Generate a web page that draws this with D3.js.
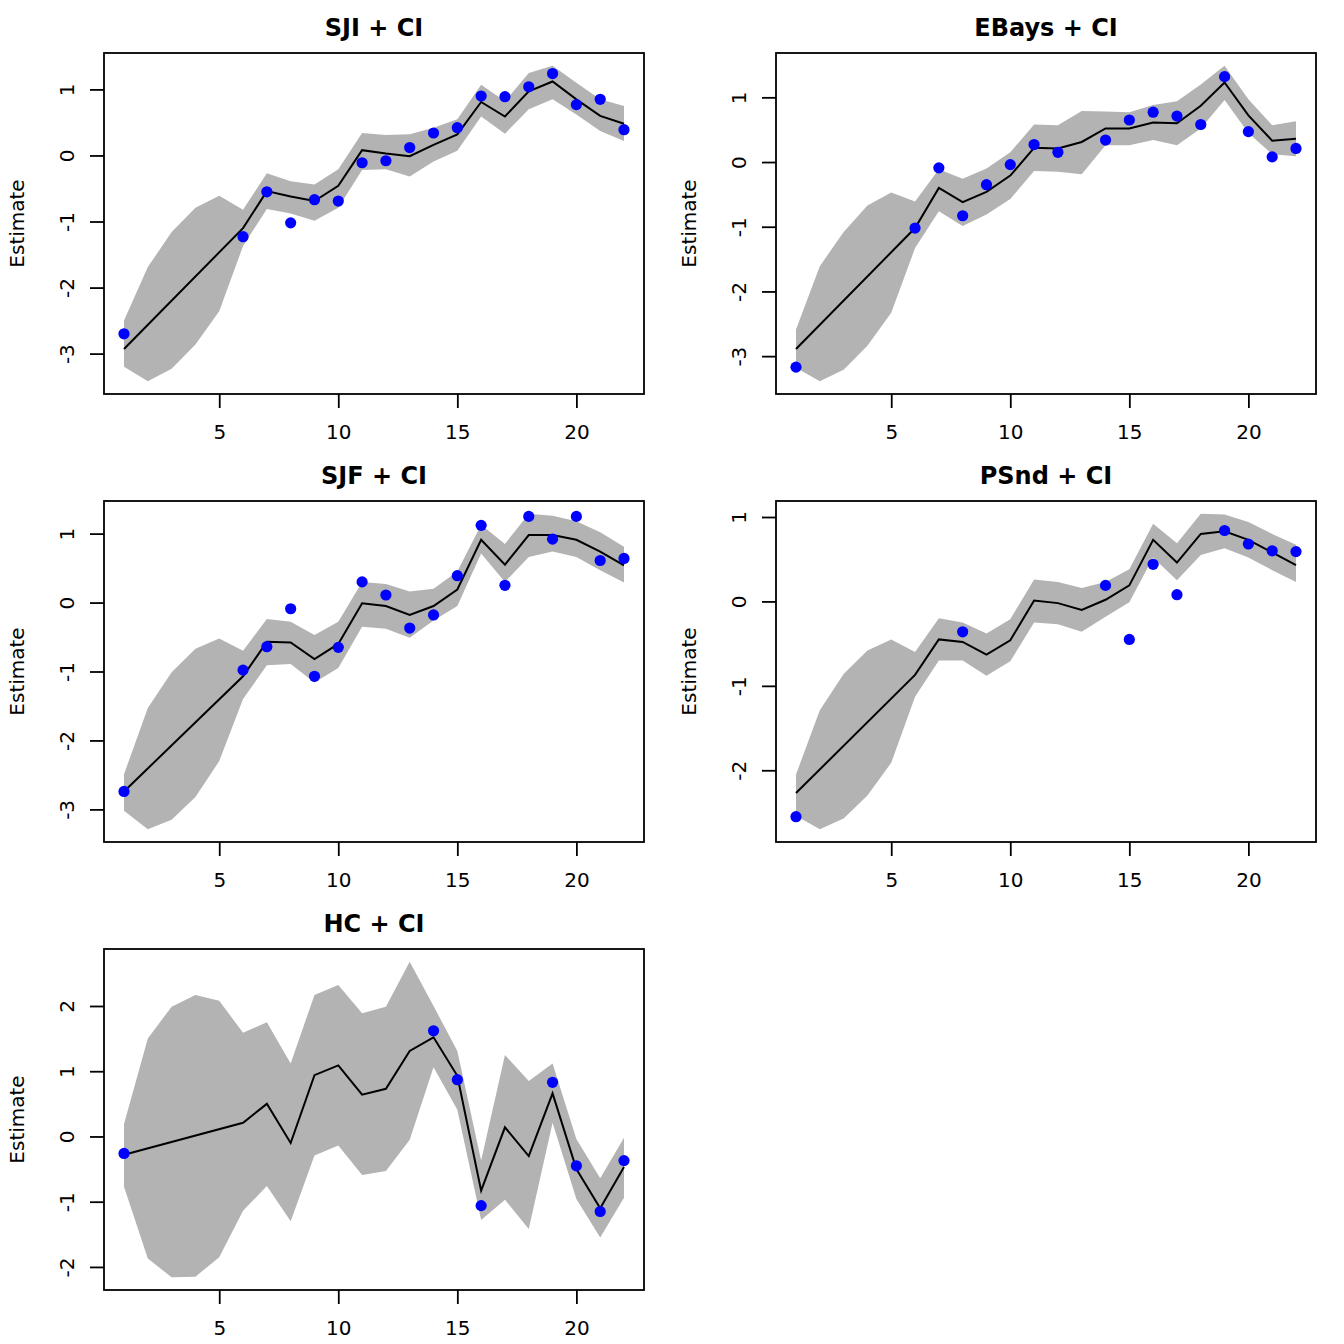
<!DOCTYPE html>
<html>
<head>
<meta charset="utf-8">
<script src="https://cdn.jsdelivr.net/npm/d3@7"></script>
<style>
  body { margin: 0; background: #fff; }
  svg { display: block; }
  text { font-family: "DejaVu Sans", sans-serif; fill: #000; }
</style>
</head>
<body>
<svg id="chart" width="1344" height="1344"></svg>
<script>
// x positions shared by every panel
const xIndex = d3.range(1, 23);

// SJI
const sjiEst = [-2.93, null, null, null, null, -1.10, -0.54, -0.62, -0.69, -0.46, 0.08, 0.03, -0.01, 0.16, 0.32, 0.81, 0.59, 0.97, 1.12, 0.85, 0.60, 0.48];
const sjiObs = [-2.70, null, null, null, null, -1.23, -0.55, -1.02, -0.67, -0.69, -0.11, -0.08, 0.12, 0.34, 0.42, 0.90, 0.89, 1.04, 1.24, 0.77, 0.85, 0.39];
const sjiUpper = [-2.50, -1.69, -1.16, -0.79, -0.61, -0.82, -0.27, -0.39, -0.44, -0.21, 0.34, 0.31, 0.32, 0.42, 0.55, 1.07, 0.82, 1.25, 1.36, 1.10, 0.85, 0.75];
const sjiLower = [-3.20, -3.42, -3.23, -2.86, -2.36, -1.37, -0.81, -0.88, -0.99, -0.79, -0.22, -0.21, -0.32, -0.09, 0.07, 0.59, 0.33, 0.70, 0.85, 0.62, 0.37, 0.22];

// EBays
const ebEst = [-2.89, null, null, null, null, -1.02, -0.40, -0.62, -0.46, -0.21, 0.22, 0.21, 0.31, 0.52, 0.52, 0.61, 0.60, 0.87, 1.23, 0.72, 0.33, 0.36];
const ebObs = [-3.17, null, null, null, null, -1.02, -0.09, -0.83, -0.35, -0.04, 0.27, 0.15, null, 0.34, 0.65, 0.77, 0.71, 0.58, 1.32, 0.47, 0.08, 0.21];
const ebUpper = [-2.59, -1.61, -1.08, -0.67, -0.47, -0.61, -0.11, -0.26, -0.10, 0.15, 0.58, 0.57, 0.79, 0.78, 0.77, 0.88, 0.94, 1.20, 1.49, 0.97, 0.57, 0.63];
const ebLower = [-3.18, -3.39, -3.21, -2.84, -2.33, -1.33, -0.76, -0.99, -0.81, -0.57, -0.14, -0.15, -0.19, 0.26, 0.26, 0.34, 0.26, 0.52, 0.96, 0.45, 0.12, 0.09];

// SJF
const sjfEst = [-2.74, null, null, null, null, -1.07, -0.57, -0.58, -0.82, -0.60, -0.01, -0.05, -0.18, -0.05, 0.19, 0.91, 0.55, 0.98, 0.98, 0.91, 0.74, 0.54];
const sjfObs = [-2.74, null, null, null, null, -0.98, -0.64, -0.09, -1.07, -0.65, 0.30, 0.11, -0.37, -0.18, 0.39, 1.12, 0.25, 1.25, 0.92, 1.25, 0.61, 0.64];
const sjfUpper = [-2.49, -1.53, -1.01, -0.67, -0.52, -0.70, -0.24, -0.28, -0.47, -0.28, 0.30, 0.27, 0.16, 0.20, 0.45, 1.13, 0.85, 1.29, 1.26, 1.18, 1.02, 0.81];
const sjfLower = [-3.02, -3.29, -3.15, -2.82, -2.30, -1.40, -0.91, -0.89, -1.16, -0.95, -0.35, -0.38, -0.51, -0.26, -0.05, 0.71, 0.30, 0.66, 0.74, 0.66, 0.47, 0.29];

// PSnd
const psEst = [-2.27, null, null, null, null, -0.87, -0.45, -0.48, -0.63, -0.46, 0.01, -0.02, -0.10, 0.02, 0.19, 0.73, 0.46, 0.80, 0.83, 0.73, 0.58, 0.43];
const psObs = [-2.55, null, null, null, null, null, null, -0.36, null, null, null, null, null, 0.19, -0.45, 0.44, 0.08, null, 0.84, 0.68, 0.60, 0.59];
const psUpper = [-2.05, -1.29, -0.86, -0.58, -0.45, -0.60, -0.20, -0.25, -0.38, -0.21, 0.26, 0.23, 0.16, 0.23, 0.38, 0.92, 0.69, 1.04, 1.03, 0.94, 0.80, 0.67];
const psLower = [-2.54, -2.70, -2.57, -2.30, -1.91, -1.13, -0.70, -0.70, -0.88, -0.71, -0.25, -0.27, -0.36, -0.18, -0.01, 0.52, 0.25, 0.55, 0.63, 0.52, 0.37, 0.23];

// HC
const hcEst = [-0.28, null, null, null, null, 0.21, 0.50, -0.10, 0.94, 1.09, 0.64, 0.73, 1.31, 1.52, 0.93, -0.83, 0.14, -0.30, 0.66, -0.50, -1.10, -0.47];
const hcObs = [-0.26, null, null, null, null, null, null, null, null, null, null, null, null, 1.62, 0.87, -1.06, null, null, 0.83, -0.45, -1.15, -0.37];
const hcUpper = [0.19, 1.50, 1.99, 2.17, 2.08, 1.59, 1.75, 1.12, 2.17, 2.32, 1.89, 1.99, 2.68, 2.00, 1.31, -0.37, 1.25, 0.85, 1.12, -0.04, -0.64, -0.02];
const hcLower = [-0.77, -1.87, -2.16, -2.15, -1.85, -1.14, -0.76, -1.30, -0.29, -0.14, -0.59, -0.53, -0.05, 1.06, 0.41, -1.28, -0.97, -1.42, 0.21, -0.96, -1.55, -0.94];

const titles = ["SJI + CI", "EBays + CI", "SJF + CI", "PSnd + CI", "HC + CI"];

const panels = [
  { title: titles[0], est: sjiEst, obs: sjiObs, upper: sjiUpper, lower: sjiLower },
  { title: titles[1], est: ebEst, obs: ebObs, upper: ebUpper, lower: ebLower },
  { title: titles[2], est: sjfEst, obs: sjfObs, upper: sjfUpper, lower: sjfLower },
  { title: titles[3], est: psEst, obs: psObs, upper: psUpper, lower: psLower },
  { title: titles[4], est: hcEst, obs: hcObs, upper: hcUpper, lower: hcLower },
];

const cellW = 672, cellH = 448;
const margin = { top: 53, right: 28, bottom: 54, left: 104 };
const plotW = cellW - margin.left - margin.right;
const plotH = cellH - margin.top - margin.bottom;
const tickLen = 14;

const svg = d3.select("#chart");

panels.forEach((p, i) => {
  const col = i % 2, row = Math.floor(i / 2);
  const g = svg.append("g")
    .attr("transform", `translate(${col * cellW + margin.left},${row * cellH + margin.top})`);

  const rows = xIndex.map((v, k) => ({
    x: v, lo: p.lower[k], hi: p.upper[k], est: p.est[k], obs: p.obs[k],
  }));

  // R style 4% padding
  const xPad = (d3.max(xIndex) - d3.min(xIndex)) * 0.04;
  const x = d3.scaleLinear()
    .domain([d3.min(xIndex) - xPad, d3.max(xIndex) + xPad])
    .range([0, plotW]);

  const allVals = [...p.lower, ...p.upper, ...p.est, ...p.obs].filter((v) => v != null);
  const [lo, hi] = d3.extent(allVals);
  const yPad = (hi - lo) * 0.04;
  const y = d3.scaleLinear().domain([lo - yPad, hi + yPad]).range([plotH, 0]);

  // confidence band
  g.append("path")
    .datum(rows)
    .attr("d", d3.area().x((d) => x(d.x)).y0((d) => y(d.lo)).y1((d) => y(d.hi)))
    .attr("fill", "#b3b3b3")
    .attr("stroke", "none");

  // estimate line
  g.append("path")
    .datum(rows.filter((d) => d.est != null))
    .attr("d", d3.line().x((d) => x(d.x)).y((d) => y(d.est)))
    .attr("fill", "none")
    .attr("stroke", "#000")
    .attr("stroke-width", 2);

  // observed points
  g.selectAll(".pt")
    .data(rows.filter((d) => d.obs != null))
    .join("circle")
    .attr("class", "pt")
    .attr("cx", (d) => x(d.x))
    .attr("cy", (d) => y(d.obs))
    .attr("r", 5.6)
    .attr("fill", "#0000ff");

  // box
  g.append("rect")
    .attr("x", 0).attr("y", 0)
    .attr("width", plotW).attr("height", plotH)
    .attr("fill", "none")
    .attr("stroke", "#000")
    .attr("stroke-width", 1.8);

  // x axis
  const xAxis = g.append("g")
    .attr("transform", `translate(0,${plotH})`)
    .call(d3.axisBottom(x).ticks(5).tickSize(tickLen).tickSizeOuter(0).tickPadding(17));
  xAxis.select(".domain").remove();
  xAxis.selectAll(".tick line").attr("stroke", "#000").attr("stroke-width", 1.8);
  xAxis.selectAll(".tick text").attr("font-size", 20).attr("font-family", "DejaVu Sans").attr("fill", "#000");

  // y axis, labels parallel to the axis
  const yAxis = g.append("g")
    .call(d3.axisLeft(y).ticks(5).tickSize(tickLen).tickSizeOuter(0).tickFormat(d3.format("d")));
  yAxis.select(".domain").remove();
  yAxis.selectAll(".tick line").attr("stroke", "#000").attr("stroke-width", 1.8);
  yAxis.selectAll(".tick text")
    .attr("x", null).attr("dy", null)
    .attr("text-anchor", "middle")
    .attr("transform", "translate(-30,0) rotate(-90)")
    .attr("font-size", 20).attr("font-family", "DejaVu Sans").attr("fill", "#000")
    .text((d) => d3.format("d")(d).replace("−", "-"));

  g.append("text")
    .attr("transform", `translate(-80,${plotH / 2}) rotate(-90)`)
    .attr("text-anchor", "middle")
    .attr("font-size", 20)
    .text("Estimate");

  g.append("text")
    .attr("x", plotW / 2)
    .attr("y", -17.5)
    .attr("text-anchor", "middle")
    .attr("font-size", 24)
    .attr("font-weight", "bold")
    .text(p.title);
});
</script>
</body>
</html>
